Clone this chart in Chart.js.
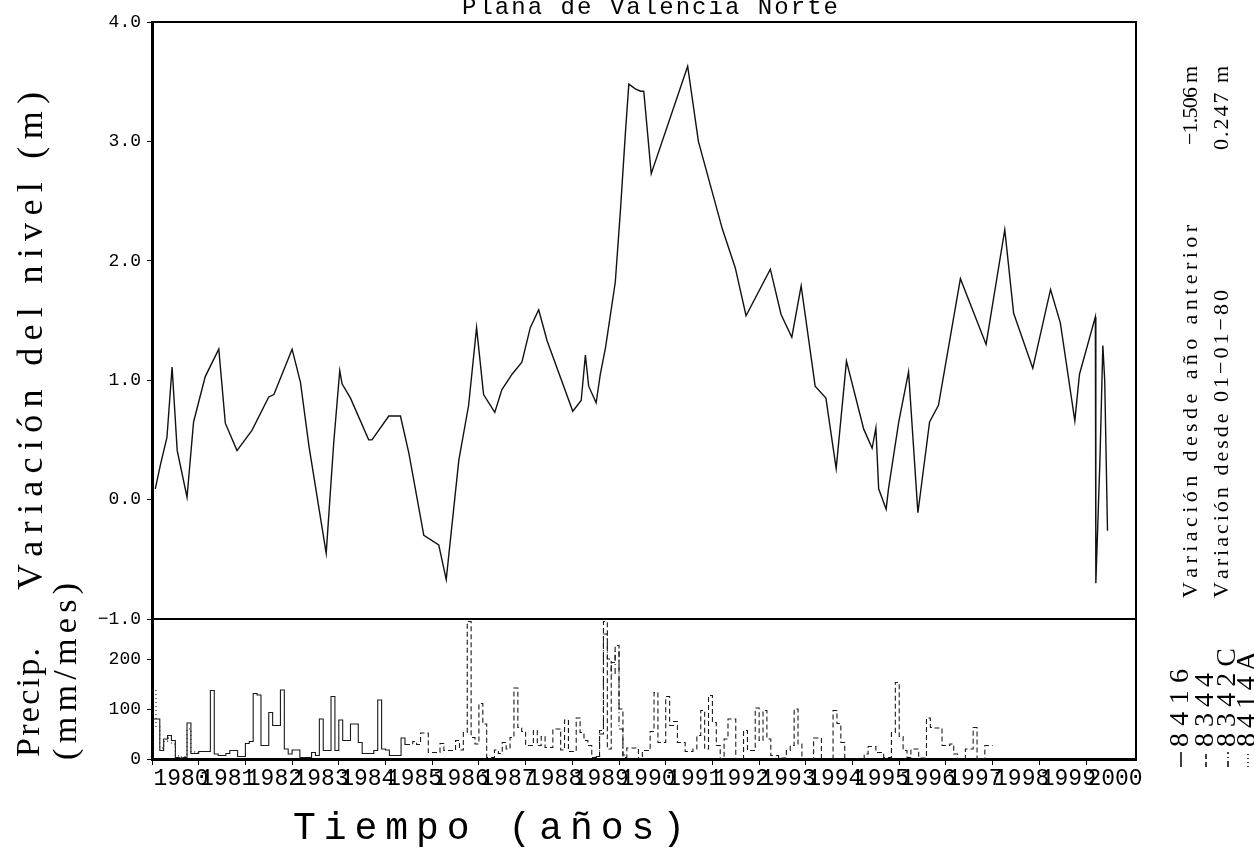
<!DOCTYPE html>
<html lang="es">
<head>
<meta charset="utf-8">
<title>Plana de Valencia Norte</title>
<script src="https://cdn.jsdelivr.net/npm/chart.js@4/dist/chart.umd.min.js"></script>
<style>
  html, body { margin: 0; padding: 0; background: #fff; }
  canvas { display: block; }
</style>
</head>
<body>
<canvas id="grafico" width="1254" height="865"></canvas>
<script>
// Marcas de los ejes
const anios = [1980, 1981, 1982, 1983, 1984, 1985, 1986, 1987, 1988, 1989, 1990,
               1991, 1992, 1993, 1994, 1995, 1996, 1997, 1998, 1999, 2000];
const ticksNivel = [-1, 0, 1, 2, 3, 4];
const ticksPrecip = [0, 100, 200];

// Variación del nivel (m) desde 01-01-80
const nivelAnio = [1980.07, 1980.18, 1980.32, 1980.43, 1980.54, 1980.75, 1980.89, 1981.14, 1981.43, 1981.57,
                   1981.82, 1982.14, 1982.50, 1982.61, 1983.00, 1983.18, 1983.36, 1983.73, 1983.89, 1984.02,
                   1984.07, 1984.25, 1984.64, 1984.71, 1985.07, 1985.32, 1985.50, 1985.82, 1986.14, 1986.30,
                   1986.57, 1986.78, 1986.95, 1987.10, 1987.34, 1987.49, 1987.71, 1987.92, 1988.10, 1988.28,
                   1988.46, 1989.01, 1989.19, 1989.28, 1989.35, 1989.51, 1989.60, 1989.71, 1989.92, 1990.03,
                   1990.14, 1990.21, 1990.35, 1990.46, 1990.53, 1990.69, 1991.47, 1991.70, 1992.21, 1992.49,
                   1992.72, 1993.24, 1993.47, 1993.70, 1993.90, 1994.20, 1994.43, 1994.65, 1994.87, 1995.24,
                   1995.42, 1995.50, 1995.56, 1995.72, 1995.77, 1995.99, 1996.20, 1996.40, 1996.65, 1996.84,
                   1997.31, 1997.86, 1998.26, 1998.45, 1998.86, 1999.24, 1999.45, 1999.76, 1999.86, 2000.20,
                   2000.21, 2000.30, 2000.36, 2000.40, 2000.46];
const nivelValor = [0.09, 0.29, 0.52, 1.11, 0.41, 0.02, 0.65, 1.03, 1.26, 0.64,
                    0.41, 0.58, 0.86, 0.88, 1.26, 0.98, 0.45, -0.45, 0.47, 1.08,
                    0.97, 0.85, 0.50, 0.50, 0.70, 0.70, 0.39, -0.30, -0.38, -0.67,
                    0.33, 0.79, 1.44, 0.88, 0.73, 0.92, 1.05, 1.15, 1.44, 1.59,
                    1.33, 0.74, 0.83, 1.21, 0.95, 0.81, 1.05, 1.27, 1.82, 2.42,
                    3.09, 3.48, 3.44, 3.42, 3.42, 2.73, 3.63, 3.00, 2.27, 1.94,
                    1.54, 1.93, 1.55, 1.36, 1.79, 0.95, 0.85, 0.26, 1.16, 0.59,
                    0.43, 0.60, 0.09, -0.08, 0.09, 0.65, 1.07, -0.11, 0.65, 0.79,
                    1.85, 1.30, 2.26, 1.56, 1.10, 1.76, 1.48, 0.66, 1.05, 1.53,
                    -0.70, 0.36, 1.29, 1.00, -0.26];

// Precipitación mensual (mm/mes); inicio = meses desde enero de 1980
const inicio8416 = 0;
const precip8416 = [80, 80, 17, 40, 47, 37, 3, 2, 3, 72, 11, 11,
                    15, 15, 15, 137, 10, 7, 7, 11, 17, 17, 5, 5,
                    31, 35, 131, 128, 27, 27, 93, 67, 67, 138, 20, 10,
                    18, 18, 3, 3, 3, 13, 7, 80, 17, 17, 125, 17,
                    78, 37, 37, 70, 70, 33, 11, 11, 11, 17, 118, 20,
                    18, 7, 7, 7, 42, 29];

const inicio8344 = 65;
const precip8344 = [29,
                    29, 35, 29, 52, 52, 13,
                    13, 13, 31, 17, 17, 17, 37, 18, 53, 275, 43, 30,
                    111, 70, 3, 3, 18, 11, 33, 20, 43, 142, 63, 55,
                    27, 27, 57, 27, 45, 23, 23, 60, 60, 18, 78, 15,
                    15, 82, 53, 37, 27, 3, 3, 57, 275, 20, 193, 227,
                    100, 3, 22, 22, 22, 0, 17, 17, 55, 133, 33, 33,
                    125, 67, 75, 33, 33, 15, 15, 20, 47, 97, 20, 127,
                    73, 27, 0, 40, 80, 80, 0, 0, 57, 17, 17, 102,
                    37, 97, 40, 7, 7, 2, 2, 17, 27, 100, 30, 0,
                    0, 0, 42, 42, 0, 0, 0, 97, 71, 33, 0, 0,
                    0, 0, 0, 10, 25, 25, 13, 13, 3, 3, 53, 153,
                    45, 17, 3, 20, 20, 2, 2, 82, 63, 62, 62, 27,
                    27, 30, 10, 0, 0, 20, 20, 63, 0, 0, 27, 27];

const inicio8342C = 114;
const precip8342C = [5, 50, 250, 200, 170, 215, 60, 8];

const inicio8414A = 0;
const precip8414A = [138, 65, 22, 35, 42, 30, 6, 4, 5, 60, 14, 12];

const mono = '"Liberation Mono", monospace';
const serif = '"Liberation Serif", serif';

function mensual(inicio, valores) {
  const pts = valores.map((v, i) => ({ x: 1980 + (inicio + i) / 12, y: v }));
  pts.push({ x: 1980 + (inicio + valores.length) / 12, y: valores[valores.length - 1] });
  return pts;
}

// texto con el espaciado del original
function textoEspaciado(ctx, texto, x, y, largo, vertical) {
  const letras = [...texto];
  ctx.save();
  ctx.translate(x, y);
  if (vertical) ctx.rotate(-Math.PI / 2);
  const anchos = letras.map(c => ctx.measureText(c).width);
  const natural = anchos.reduce((a, b) => a + b, 0);
  const hueco = letras.length > 1 ? (largo - natural) / (letras.length - 1) : 0;
  let pos = 0;
  letras.forEach((c, i) => {
    ctx.fillText(c, pos, 0);
    pos += anchos[i] + hueco;
  });
  ctx.restore();
}

const marco = {
  id: 'marco',
  beforeDraw(chart) {
    const c = chart.ctx;
    c.save();
    c.fillStyle = '#fff';
    c.fillRect(0, 0, chart.width, chart.height);
    c.restore();
  },
  afterDraw(chart) {
    const { ctx: c, chartArea: a, scales } = chart;
    c.save();
    c.strokeStyle = '#000';
    c.lineWidth = 2;
    c.beginPath();
    c.moveTo(a.left, a.top);
    c.lineTo(a.right, a.top);
    c.lineTo(a.right, a.bottom);
    const ySep = scales.y.bottom;
    c.moveTo(a.left, ySep);
    c.lineTo(a.right, ySep);
    c.stroke();

    c.fillStyle = '#000';
    c.textBaseline = 'middle';
    c.textAlign = 'left';

    c.font = '24px ' + mono;
    textoEspaciado(c, 'Plana de Valencia Norte', 462, 8, 376, false);

    c.font = '36px ' + serif;
    textoEspaciado(c, 'Variación del nivel (m)', 33, 590, 498, true);
    c.font = '34px ' + serif;
    textoEspaciado(c, 'Precip.', 30, 757, 109, true);
    textoEspaciado(c, '(mm/mes)', 67, 760, 177, true);

    c.font = '38px ' + mono;
    textoEspaciado(c, 'Tiempo (años)', 293, 829, 392, false);

    c.font = '22px ' + serif;
    textoEspaciado(c, 'Variación desde año anterior', 1191, 598, 373, true);
    textoEspaciado(c, '\u22121.506 m', 1191, 145, 79, true);
    textoEspaciado(c, 'Variación desde 01\u221201\u221280', 1222, 598, 308, true);
    textoEspaciado(c, '0.247 m', 1222, 150, 84, true);

    // leyenda de estaciones
    const leyenda = [
      { txt: '8416', x: 1181, len: 78, dash: [] },
      { txt: '8344', x: 1206, len: 74, dash: [5, 3] },
      { txt: '8342C', x: 1228, len: 99, dash: [6, 3, 1, 3] },
      { txt: '8414A', x: 1248, len: 96, dash: [1, 3] }
    ];
    c.font = '28px ' + serif;
    leyenda.forEach(l => {
      textoEspaciado(c, l.txt, l.x, 747, l.len, true);
      c.save();
      c.lineWidth = 1.5;
      c.setLineDash(l.dash);
      c.beginPath();
      c.moveTo(l.x, 767);
      c.lineTo(l.x, 752);
      c.stroke();
      c.restore();
    });
    c.restore();
  }
};

const estiloPrecip = { yAxisID: 'yp', stepped: true, borderColor: '#1a1a1a', borderWidth: 1.1, pointRadius: 0, fill: false };

const ctx = document.getElementById('grafico').getContext('2d');

const grafico = new Chart(ctx, {
  type: 'line',
  data: {
    datasets: [
      { label: 'Nivel', data: nivelAnio.map((x, i) => ({ x: x, y: nivelValor[i] })), yAxisID: 'y',
        borderColor: '#111', borderWidth: 1.4, pointRadius: 0, tension: 0, fill: false },
      Object.assign({ label: '8416', data: mensual(inicio8416, precip8416) }, estiloPrecip),
      Object.assign({ label: '8344', data: mensual(inicio8344, precip8344), borderDash: [5, 3] }, estiloPrecip),
      Object.assign({ label: '8342C', data: mensual(inicio8342C, precip8342C), borderDash: [6, 3, 1, 3] }, estiloPrecip),
      Object.assign({ label: '8414A', data: mensual(inicio8414A, precip8414A), borderDash: [1, 3] }, estiloPrecip)
    ]
  },
  options: {
    responsive: false,
    animation: false,
    layout: { padding: { left: 0, right: 118, top: 22, bottom: 66 } },
    plugins: {
      legend: { display: false },
      tooltip: { enabled: false },
      title: { display: false }
    },
    scales: {
      x: {
        type: 'linear',
        min: 1980,
        max: 2001.07,
        afterBuildTicks: s => { s.ticks = anios.map(v => ({ value: v })); },
        afterFit: s => { s.height = 40; },
        ticks: {
          autoSkip: false, maxRotation: 0, minRotation: 0, labelOffset: 29, padding: 0,
          color: '#000', font: { family: mono, size: 23 },
          callback: v => String(v)
        },
        grid: { drawOnChartArea: false, tickLength: 6, color: '#000', lineWidth: 1 },
        border: { color: '#000', width: 3 }
      },
      yp: {
        type: 'linear',
        position: 'left',
        stack: 'panel',
        stackWeight: 140,
        min: 0,
        max: 280,
        afterBuildTicks: s => { s.ticks = ticksPrecip.map(v => ({ value: v })); },
        afterFit: s => { s.width = 152; },
        ticks: {
          padding: 6, color: '#000', font: { family: mono, size: 18 },
          callback: v => String(v)
        },
        grid: { drawOnChartArea: false, tickLength: 5, color: '#000' },
        border: { color: '#000', width: 3 }
      },
      y: {
        type: 'linear',
        position: 'left',
        stack: 'panel',
        stackWeight: 597,
        min: -1,
        max: 4,
        afterBuildTicks: s => { s.ticks = ticksNivel.map(v => ({ value: v })); },
        afterFit: s => { s.width = 152; },
        ticks: {
          padding: 6, color: '#000', font: { family: mono, size: 18 },
          callback: v => v.toFixed(1).replace('-', '\u2212')
        },
        grid: { drawOnChartArea: false, tickLength: 5, color: '#000' },
        border: { color: '#000', width: 3 }
      }
    }
  },
  plugins: [marco]
});
</script>
</body>
</html>
